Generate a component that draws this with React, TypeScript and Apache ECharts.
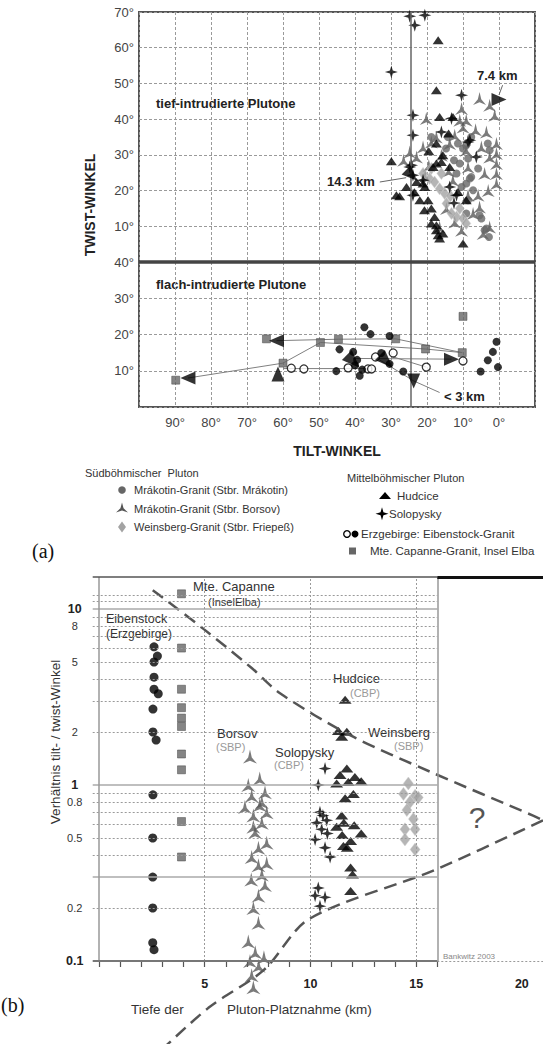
import React, { useEffect, useRef } from "react";
import * as echarts from "echarts";

const FONT = '"Liberation Sans", Arial, Helvetica, sans-serif';
const SERIF = '"Liberation Serif", "Times New Roman", serif';

// ---------------- (a) axes ----------------
const tiltMin = -10;
const tiltMax = 100;
const twistMaxUpper = 70;
const twistMaxLower = 40;
const verticalTilt = 24.5;

// ---------------- (a) upper panel: [tilt, twist] ----------------
const borsovUpper = [
  [5.4, 45.8], [2.6, 43.9], [1.2, 41.1], [10.4, 43], [10.9, 39.7], [20.2, 40.2], [3.5, 36.4],
  [0.7, 33.2], [0.7, 30.4], [0.7, 27.6], [0.7, 24.8], [0.7, 22], [4.9, 32.2], [9.1, 39.7],
  [10, 37.8], [12.3, 35.5], [13.7, 33.2], [17.4, 35], [21.1, 32.2], [18.8, 33.6], [24.8, 30.8],
  [22.9, 29.4], [9.1, 31.3], [8.6, 26.6], [2.6, 29.4], [4, 24.8], [5.8, 18.7], [8.6, 18.7],
  [5.4, 15.4], [7.2, 13.6], [2.6, 9.8], [4.4, 8], [10.4, 8.9], [12.3, 11.2], [16.5, 9.8],
  [14.6, 15], [12.8, 22.9], [16, 29.9], [19.5, 27], [14, 25.5], [26.5, 28.5], [20.5, 24],
  [6.5, 37], [3, 20],
];
const mrakotinUpper = [
  [14.2, 35], [7.7, 35], [11.4, 33.2], [3.1, 33.2], [2.6, 31.3], [10, 31.8], [8.6, 29],
  [10.9, 27.6], [5.8, 26.2], [11.8, 24.8], [7.7, 23.8], [9.1, 22], [10.4, 21], [7.2, 20.1],
  [8.6, 17.3], [9.1, 13.6], [4.9, 12.2], [4, 8.9], [2.8, 7], [18.8, 35], [14.7, 31.8],
  [9.1, 32.7], [8.1, 23.4], [5.4, 13.1], [3.5, 9.4], [12.5, 28.5],
];
const weinsbergUpper = [
  [21.1, 24.8], [19.3, 23.4], [17.9, 22.4], [18.8, 26.2], [15.1, 19.2], [14.6, 16.4],
  [10.9, 15], [11.8, 12.6], [10, 12.2], [9.1, 10.8], [13.2, 13.6], [16, 24.8], [16.5, 20.5],
  [13.5, 18.5],
];
const hudciceUpper = [
  [16.9, 62.1], [17.4, 48.1], [29.9, 28.2], [16.5, 40.6], [12.8, 40.6], [28.5, 18.7], [10, 5.2],
  [16.9, 7.5], [17.4, 33.2], [15.6, 29.9], [17.4, 27.6], [13.7, 26.6], [21.1, 22], [25.7, 21],
  [22, 17.3], [20.7, 14.5], [17.9, 12.6], [18.8, 10.8], [17.4, 8.9], [15.6, 8], [16.5, 6.6],
  [11.4, 19.6], [9.1, 17.3], [16, 28], [18.3, 26.6], [20.6, 21], [22.9, 22.4], [19.7, 17.3],
  [18.8, 15], [17.4, 10.3], [19.5, 31], [14, 36], [27.6, 18.4], [23.5, 19.5],
];
const solopyskyUpper = [
  [24.8, 68.8], [20.6, 69.1], [23.4, 66.3], [29.9, 53.2], [10.4, 46.7], [23.9, 41.1],
  [13.2, 40.2], [23.9, 35.5], [16, 36.4], [24.8, 26.6], [23.9, 24.3], [23.9, 18.7], [8.1, 34.1],
  [6.3, 29.4], [13.7, 21], [11.8, 18.7], [21.1, 22.9], [24.3, 27.1], [8.6, 33.6], [12.5, 16.5],
];
const arrowUpper = [[0, 45.5], [24.3, 24.3]];
const arrowUpperDir = ["right", "downright"];
const leaderUpper = [
  [[-1, 49.5], [0, 46.8]],
  [[33.1, 22.4], [25.8, 23.6]],
];

// ---------------- (a) lower panel: [tilt, twist] ----------------
const capanneLower = [
  [89.8, 7.4], [64.6, 18.8], [60, 12.1], [49.6, 17.8], [44.6, 18.7], [28.7, 18.8], [20.4, 16],
  [10.2, 15], [10, 25],
];
const eibenstockFilledLower = [
  [37.4, 22], [35.7, 20.1], [30.4, 19.6], [44.3, 15.9], [40.5, 15.2], [32.7, 14.9], [39.4, 13],
  [30.4, 11.9], [26.6, 9.8], [45.2, 9.9], [38.7, 8.6], [5.1, 9.8], [3.1, 12.9], [1.7, 15.2],
  [0.7, 18], [0.3, 11], [40, 11.5], [38, 10.3],
];
const eibenstockOpenLower = [
  [57.7, 10.7], [54.2, 10.5], [41.9, 10.8], [36.4, 10.5], [35.4, 10.5], [34.3, 13.8],
  [29.4, 14.9], [20.2, 11], [10, 12.7],
];
const arrowLower = [[86.4, 8], [61.8, 18.3], [61.4, 9.1], [13.2, 13.2], [23.7, 7.2], [40.5, 12.6], [31.3, 12.6]];
const arrowLowerDir = ["left", "left", "up", "right", "down", "downright", "downright"];
const trendLower = [
  [[60, 12.1], [86.4, 8]],
  [[60, 12.1], [49.6, 17.8], [20.4, 16], [10.2, 15]],
  [[61.8, 18.3], [44.6, 18.7], [28.7, 18.8], [10.2, 15]],
  [[60, 10.6], [35.4, 10.6]],
  [[40.5, 13.4], [13.2, 13.2]],
  [[34, 13.5], [23.7, 7.2], [16.5, 4]],
  [[30, 14], [20.2, 11]],
];

// ---------------- (b): [depth km, tilt/twist ratio] ----------------
const eibenstockB = [
  [2.6, 6.1], [2.76, 5.4], [2.6, 5.0], [2.6, 4.1], [2.6, 3.5], [2.8, 3.3], [2.55, 2.7],
  [2.55, 2.0], [2.7, 1.8], [2.55, 0.88], [2.54, 0.5], [2.54, 0.3], [2.54, 0.2], [2.54, 0.127],
  [2.6, 0.116],
];
const capanneB = [
  [3.9, 12.2], [3.9, 6.0], [3.9, 3.5], [3.9, 2.75], [3.9, 2.4], [3.9, 2.15], [3.9, 1.5],
  [3.9, 1.22], [3.9, 0.62], [3.9, 0.39],
];
const borsovB = [
  [7.14, 1.45], [7.6, 1.09], [7.06, 1.0], [7.85, 0.91], [7.22, 0.87], [6.9, 0.75], [7.6, 0.77],
  [7.93, 0.7], [7.3, 0.67], [7.7, 0.61], [7.38, 0.54], [7.93, 0.47], [7.54, 0.44], [7.22, 0.39],
  [7.93, 0.36], [7.54, 0.35], [7.7, 0.31], [7.85, 0.27], [7.54, 0.235], [7.3, 0.2], [7.54, 0.165],
  [7.06, 0.129], [7.39, 0.112], [7.8, 0.105], [7.14, 0.1], [7.55, 0.094], [7.22, 0.083],
  [7.3, 0.071], [7.2, 0.29], [7.7, 0.8], [7.3, 0.58],
];
const solopyskyB = [
  [10.69, 1.24], [10.37, 1.0], [10.45, 0.7], [10.77, 0.63], [10.3, 0.61], [10.53, 0.56],
  [10.22, 0.49], [10.69, 0.44], [10.93, 0.39], [10.37, 0.26], [10.69, 0.23], [10.22, 0.235],
  [10.45, 0.205], [10.59, 0.67], [10.8, 0.53],
];
const hudciceB = [
  [11.64, 3.05], [11.32, 2.03], [11.72, 2.01], [11.48, 1.88], [11.72, 1.24], [11.4, 1.14],
  [12.1, 1.11], [12.4, 1.05], [11.24, 1.02], [11.79, 1.04], [12.03, 0.89], [11.64, 0.84],
  [11.58, 0.61], [12.07, 0.59], [12.4, 0.53], [11.5, 0.52], [11.9, 0.48], [11.74, 0.44],
  [11.9, 0.34], [11.99, 0.31], [11.9, 0.25], [11.48, 0.67], [11.24, 0.58], [11.56, 0.45],
];
const weinsbergB = [
  [14.63, 1.02], [14.4, 0.89], [14.95, 0.87], [14.71, 0.8], [14.56, 0.72], [14.87, 0.64],
  [14.47, 0.56], [14.95, 0.56], [14.47, 0.49], [14.95, 0.43], [15.1, 0.85],
];
const upperBoundB = [[2.54, 12.8], [4.97, 7.66], [7.22, 4.62], [8.56, 3.32], [11.87, 1.92], [15.66, 1.19], [20.53, 0.67], [21, 0.63]];
const lowerBoundB = [[21, 0.63], [15.85, 0.328], [9.93, 0.173], [7.8, 0.089], [5.16, 0.054], [2.54, 0.028]];

const ratioMin = 0.1;
const ratioMax = 15.2;
const ratioLabels = [0.1, 0.2, 0.5, 0.8, 1, 2, 5, 8, 10];
const ratioBold = [0.1, 1, 10];
const ratioDashed = [12, 11, 9, 8, 7, 6, 5, 4, 3, 2, 0.9, 0.8, 0.7, 0.6, 0.5, 0.4, 0.2];
const ratioSolid = [10, 1, 0.3];
const depthMin = -0.3;
const depthMax = 21;
const depthFrame = 16;
const depthLabels = [5, 10, 15, 20];
const depthTicks = [0, 1, 2, 3, 4, 5, 6, 7, 8, 9, 10, 11, 12, 13, 14, 15, 16];
const depthGrid = [5, 10, 15];

// ---------------- symbols ----------------
const TRI3_REL = [[10, 0], [12.6, 9.4], [20, 16.5], [10, 13.2], [0, 16.5], [7.4, 9.4]];
const STAR4_REL = [[10, 0], [12.2, 7.8], [20, 10], [12.2, 12.2], [10, 20], [7.8, 12.2], [0, 10], [7.8, 7.8]];
const relToPath = (rel: number[][]) => "path://M" + rel.map((p) => p.join(",")).join(" L") + " Z";
const TRI3 = relToPath(TRI3_REL);
const STAR4 = relToPath(STAR4_REL);
const relPoints = (rel: number[][], cx: number, cy: number, s: number) =>
  rel.map(([x, y]) => [cx + ((x - 10) * s) / 20, cy + ((y - 10) * s) / 20]);

const ROT: Record<string, number> = { up: 0, left: 90, down: 180, right: -90, downright: -135 };

function text(t: string, x: number, y: number, o: any = {}) {
  return {
    type: "text",
    x,
    y,
    rotation: o.rotation || 0,
    silent: true,
    style: {
      text: t,
      fill: o.fill || "#333",
      font: `${o.weight || "normal"} ${o.size || 11}px ${o.family || FONT}`,
      align: o.align || "left",
      verticalAlign: "middle",
      textAlign: o.align || "left",
      textVerticalAlign: "middle",
    },
  };
}

function buildOption() {
  const dash = { color: "#9a9a9a", type: [3, 2] as number[], width: 1 };
  const scatterA = (name: string, data: any[], gi: number, extra: any) => ({
    type: "scatter",
    name,
    xAxisIndex: gi,
    yAxisIndex: gi,
    data,
    clip: false,
    ...extra,
  });

  const series: any[] = [];

  series.push({
    type: "scatter", xAxisIndex: 0, yAxisIndex: 0, data: [],
    markLine: {
      silent: true, symbol: ["none", "none"], label: { show: false },
      data: [{ xAxis: verticalTilt, lineStyle: { color: "#666", width: 1.5, type: "solid" } }],
    },
  });
  series.push({
    type: "scatter", xAxisIndex: 1, yAxisIndex: 1, data: [],
    markLine: {
      silent: true, symbol: ["none", "none"], label: { show: false },
      data: [
        { xAxis: verticalTilt, lineStyle: { color: "#666", width: 1.5, type: "solid" } },
        { yAxis: twistMaxLower, lineStyle: { color: "#444", width: 3.5, type: "solid" } },
      ],
    },
  });

  leaderUpper.forEach((d) =>
    series.push({ type: "line", xAxisIndex: 0, yAxisIndex: 0, data: d, showSymbol: false, symbol: "none", lineStyle: { color: "#666", width: 1 }, z: 1 })
  );
  trendLower.forEach((d) =>
    series.push({ type: "line", xAxisIndex: 1, yAxisIndex: 1, data: d, showSymbol: false, symbol: "none", lineStyle: { color: "#808080", width: 1 }, z: 1 })
  );

  series.push(scatterA("Borsov", borsovUpper, 0, { symbol: TRI3, symbolSize: 13, itemStyle: { color: "#5a5a5a" } }));
  series.push(scatterA("Mrákotin", mrakotinUpper, 0, { symbol: "circle", symbolSize: 8, itemStyle: { color: "#666" } }));
  series.push(scatterA("Weinsberg", weinsbergUpper, 0, { symbol: "diamond", symbolSize: [9, 12], itemStyle: { color: "#a3a3a3", borderColor: "#d0d0d0", borderWidth: 0.6 } }));
  series.push(scatterA("Hudcice", hudciceUpper, 0, { symbol: "triangle", symbolSize: [11, 8], itemStyle: { color: "#000" } }));
  series.push(scatterA("Solopysky", solopyskyUpper, 0, { symbol: STAR4, symbolSize: 13, itemStyle: { color: "#000" } }));
  series.push(scatterA("arrowsUpper", arrowUpper.map((p, i) => ({ value: p, symbolRotate: ROT[arrowUpperDir[i]] })), 0, { symbol: "triangle", symbolSize: [13, 15], itemStyle: { color: "#000" }, z: 5 }));

  series.push(scatterA("Capanne", capanneLower, 1, { symbol: "rect", symbolSize: 8, itemStyle: { color: "#666", borderColor: "#444", borderWidth: 0.6 } }));
  series.push(scatterA("EibOpen", eibenstockOpenLower, 1, { symbol: "circle", symbolSize: 8, itemStyle: { color: "#fff", borderColor: "#000", borderWidth: 1.3 } }));
  series.push(scatterA("EibFilled", eibenstockFilledLower, 1, { symbol: "circle", symbolSize: 8, itemStyle: { color: "#000" } }));
  series.push(scatterA("arrowsLower", arrowLower.map((p, i) => ({ value: p, symbolRotate: ROT[arrowLowerDir[i]], symbolSize: arrowLowerDir[i] === "downright" ? [14, 18] : [13, 15] })), 1, { symbol: "triangle", itemStyle: { color: "#000" }, z: 5 }));

  // (b) grid lines
  const gl = (v: number, style: any) => [{ coord: [depthMin, v], lineStyle: style }, { coord: [depthFrame, v] }];
  series.push({
    type: "scatter", xAxisIndex: 2, yAxisIndex: 2, data: [], clip: false,
    markLine: {
      silent: true, symbol: ["none", "none"], label: { show: false },
      data: [
        ...ratioDashed.map((v) => gl(v, { color: "#9a9a9a", type: [2, 2], width: 1 })),
        ...ratioSolid.map((v) => gl(v, { color: "#aaa", type: "solid", width: 1.5 })),
        ...depthGrid.map((v) => ({ xAxis: v, lineStyle: { color: "#9a9a9a", type: [2, 2], width: 1 } })),
        { xAxis: 0, lineStyle: { color: "#999", type: "solid", width: 1.5 } },
        { xAxis: depthFrame, lineStyle: { color: "#999", type: "solid", width: 1.5 } },
        [{ coord: [depthMin, ratioMax], lineStyle: { color: "#555", type: "solid", width: 1.5 } }, { coord: [depthFrame, ratioMax] }],
        [{ coord: [depthFrame, ratioMax], lineStyle: { color: "#111", type: "solid", width: 3 } }, { coord: [depthMax, ratioMax] }],
        [{ coord: [depthMin, ratioMin], lineStyle: { color: "#777", type: "solid", width: 2 } }, { coord: [depthFrame, ratioMin] }],
        [{ coord: [depthFrame, ratioMin], lineStyle: { color: "#9a9a9a", type: [2, 2], width: 1 } }, { coord: [depthMax, ratioMin] }],
      ],
    },
  });
  const curve = (d: number[][]) => ({
    type: "line", xAxisIndex: 2, yAxisIndex: 2, data: d, smooth: 0.3, symbol: "none", showSymbol: false, clip: false,
    lineStyle: { color: "#555", width: 2.5, type: [13, 7] },
  });
  series.push(curve(upperBoundB));
  series.push(curve(lowerBoundB));
  series.push(scatterA("CapB", capanneB, 2, { symbol: "rect", symbolSize: 8, itemStyle: { color: "#666", borderColor: "#444", borderWidth: 0.6 } }));
  series.push(scatterA("EibB", eibenstockB, 2, { symbol: "circle", symbolSize: 9, itemStyle: { color: "#000" } }));
  series.push(scatterA("BorsovB", borsovB, 2, { symbol: TRI3, symbolSize: 14, itemStyle: { color: "#5a5a5a" } }));
  series.push(scatterA("SolB", solopyskyB, 2, { symbol: STAR4, symbolSize: 13, itemStyle: { color: "#000" } }));
  series.push(scatterA("HudB", hudciceB, 2, { symbol: "triangle", symbolSize: [13, 8], itemStyle: { color: "#000" } }));
  series.push(scatterA("WeinsB", weinsbergB, 2, { symbol: "diamond", symbolSize: [10, 13], itemStyle: { color: "#a3a3a3", borderColor: "#d0d0d0", borderWidth: 0.6 } }));

  const fmtRatio = (v: number) => {
    const r = Math.round(v * 100) / 100;
    return ratioBold.includes(r) ? `{b|${r}}` : `{n|${r}}`;
  };

  const g: any[] = [];
  g.push(text("tief-intrudierte Plutone", 156, 103, { weight: "bold", size: 13, fill: "#222" }));
  g.push(text("flach-intrudierte Plutone", 156, 284, { weight: "bold", size: 13, fill: "#222" }));
  g.push(text("TWIST-WINKEL", 90, 205, { weight: "bold", size: 14, fill: "#222", align: "center", rotation: Math.PI / 2 }));
  g.push(text("TILT-WINKEL", 337, 451, { weight: "bold", size: 14, fill: "#222", align: "center" }));
  g.push(text("7.4 km", 477, 75, { weight: "bold", size: 13, fill: "#222" }));
  g.push(text("14.3 km", 327, 181, { weight: "bold", size: 13, fill: "#222" }));
  g.push(text("< 3 km", 444, 396, { weight: "bold", size: 13, fill: "#222" }));
  g.push(text("Südböhmischer\u00a0 Pluton", 85, 473, { size: 11 }));
  g.push({ type: "circle", shape: { cx: 122, cy: 490, r: 3.8 }, style: { fill: "#666" }, silent: true });
  g.push(text("Mrákotin-Granit (Stbr. Mrákotin)", 134, 490, { size: 11 }));
  g.push({ type: "polygon", shape: { points: relPoints(TRI3_REL, 122, 508.5, 12) }, style: { fill: "#555" }, silent: true });
  g.push(text("Mrákotin-Granit (Stbr. Borsov)", 134, 508.5, { size: 11 }));
  g.push({ type: "polygon", shape: { points: [[122, 521.5], [126, 527], [122, 532.5], [118, 527]] }, style: { fill: "#a3a3a3" }, silent: true });
  g.push(text("Weinsberg-Granit (Stbr. Friepeß)", 134, 527, { size: 11 }));
  g.push(text("Mittelböhmischer Pluton", 347, 478, { size: 11 }));
  g.push({ type: "polygon", shape: { points: [[385, 492], [391, 499], [379, 499]] }, style: { fill: "#000" }, silent: true });
  g.push(text("Hudcice", 397, 495.6, { size: 11.5 }));
  g.push({ type: "polygon", shape: { points: relPoints(STAR4_REL, 382, 513.7, 13) }, style: { fill: "#000" }, silent: true });
  g.push(text("Solopysky", 389, 513.7, { size: 11.5 }));
  g.push({ type: "circle", shape: { cx: 347, cy: 534, r: 3.3 }, style: { fill: "#fff", stroke: "#000", lineWidth: 1.3 }, silent: true });
  g.push({ type: "circle", shape: { cx: 355, cy: 534, r: 3.5 }, style: { fill: "#000" }, silent: true });
  g.push(text("Erzgebirge: Eibenstock-Granit", 361, 534, { size: 11.5 }));
  g.push({ type: "rect", shape: { x: 349, y: 547.5, width: 7, height: 7 }, style: { fill: "#666" }, silent: true });
  g.push(text("Mte. Capanne-Granit, Insel Elba", 370, 551, { size: 11.5 }));
  g.push(text("(a)", 32, 551, { size: 20, family: SERIF, fill: "#111" }));
  g.push(text("Mte. Capanne", 193, 586, { size: 13 }));
  g.push(text("(InselElba)", 208, 602, { size: 11 }));
  g.push(text("Eibenstock", 106, 619, { size: 12.5 }));
  g.push(text("(Erzgebirge)", 106, 634, { size: 12 }));
  g.push(text("Borsov", 217, 733, { size: 13 }));
  g.push(text("(SBP)", 216, 747, { size: 11, fill: "#999" }));
  g.push(text("Solopysky", 275, 752, { size: 13 }));
  g.push(text("(CBP)", 274, 765, { size: 11, fill: "#999" }));
  g.push(text("Hudcice", 333, 678, { size: 13 }));
  g.push(text("(CBP)", 350, 693, { size: 11, fill: "#999" }));
  g.push(text("Weinsberg", 368, 732, { size: 13 }));
  g.push(text("(SBP)", 394, 746, { size: 11, fill: "#999" }));
  g.push(text("?", 477, 817, { size: 30, fill: "#555", align: "center" }));
  g.push(text("Bankwitz 2003", 443, 956, { size: 8, fill: "#888" }));
  g.push(text("Verhältnis tilt- / twist-Winkel", 55, 742, { size: 13.5, align: "center", rotation: Math.PI / 2 }));
  g.push(text("Tiefe der", 131, 1009, { size: 13.5 }));
  g.push(text("Pluton-Platznahme (km)", 227, 1009, { size: 13.5 }));
  g.push(text("(b)", 1, 1005, { size: 20, family: SERIF, fill: "#111" }));

  return {
    animation: false,
    backgroundColor: "#fff",
    textStyle: { fontFamily: FONT },
    grid: [
      { left: 139, top: 12, width: 396, height: 250, show: true, borderColor: "#555", borderWidth: 2, backgroundColor: "transparent" },
      { left: 139, top: 262, width: 396, height: 145, show: true, borderColor: "#555", borderWidth: 2, backgroundColor: "transparent" },
      { left: 92.7, top: 577, width: 450.3, height: 384, show: false },
    ],
    xAxis: [
      { gridIndex: 0, type: "value", min: tiltMin, max: tiltMax, interval: 10, inverse: true, axisLine: { show: false, onZero: false }, axisTick: { show: false }, axisLabel: { show: false }, splitLine: { show: true, lineStyle: dash } },
      { gridIndex: 1, type: "value", min: tiltMin, max: tiltMax, interval: 10, inverse: true, axisLine: { show: false, onZero: false }, axisTick: { show: false },
        axisLabel: { formatter: (v: number) => (v >= 0 && v <= 90 ? v + "°" : ""), color: "#444", fontSize: 13, margin: 9, fontFamily: FONT }, splitLine: { show: true, lineStyle: dash } },
      { gridIndex: 2, type: "value", min: depthMin, max: depthMax, axisLine: { show: false, onZero: false },
        axisTick: { show: true, customValues: depthTicks, length: 6, lineStyle: { color: "#555", width: 1.2 } },
        axisLabel: { customValues: depthLabels, fontWeight: "bold", fontSize: 12.5, color: "#222", margin: 16, fontFamily: FONT },
        splitLine: { show: false } },
    ],
    yAxis: [
      { gridIndex: 0, type: "value", min: 0, max: twistMaxUpper, interval: 10, axisLine: { show: false }, axisTick: { show: false },
        axisLabel: { formatter: (v: number) => (v > 0 ? v + "°" : ""), color: "#444", fontSize: 13, margin: 5, fontFamily: FONT }, splitLine: { show: true, lineStyle: dash } },
      { gridIndex: 1, type: "value", min: 0, max: twistMaxLower, interval: 10, axisLine: { show: false }, axisTick: { show: false },
        axisLabel: { formatter: (v: number) => (v > 0 ? v + "°" : ""), color: "#444", fontSize: 13, margin: 5, fontFamily: FONT }, splitLine: { show: true, lineStyle: dash } },
      { gridIndex: 2, type: "log", logBase: 10, min: ratioMin, max: ratioMax, axisLine: { show: false }, axisTick: { show: false }, splitLine: { show: false },
        axisLabel: { customValues: ratioLabels, formatter: fmtRatio, margin: 18, align: "center",
          rich: { b: { fontWeight: "bold", fontSize: 12.5, color: "#222", fontFamily: FONT }, n: { fontSize: 11, color: "#333", fontFamily: FONT } } } },
    ],
    series,
    graphic: g,
  };
}

export default function App() {
  const ref = useRef<HTMLDivElement>(null);
  useEffect(() => {
    const chart = echarts.init(ref.current!, null, { renderer: "svg" });
    chart.setOption(buildOption() as any);
    return () => chart.dispose();
  }, []);
  return (
    <div
      ref={ref}
      style={{ position: "absolute", left: 0, top: 0, width: 543, height: 1044, background: "#fff" }}
    />
  );
}
